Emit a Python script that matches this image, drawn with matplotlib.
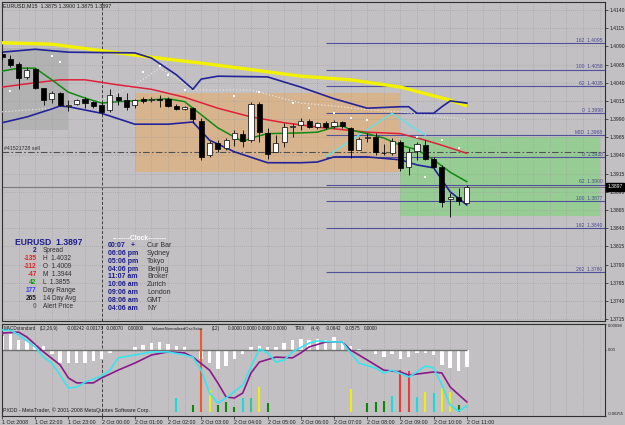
import numpy as np
import matplotlib.pyplot as plt
from matplotlib.patches import Rectangle

plt.rcParams['font.family'] = ['Liberation Sans', 'DejaVu Sans']

W, H = 625, 425
BG = '#c2c0c2'
GRID = '#9c9c9c'

# EURUSD M15 bars, 1 Oct 21:00 -> 2 Oct 11:00
opens = [1.4080, 1.4073, 1.4066, 1.4048, 1.4059, 1.4033, 1.4018, 1.4026, 1.4008, 1.4011,
         1.4018, 1.4014, 1.4009, 1.4002, 1.4020, 1.4016, 1.4009, 1.4017, 1.4016, 1.4018,
         1.4018, 1.4008, 1.4004, 1.4005, 1.3987, 1.3941, 1.3957, 1.3950, 1.3963, 1.3970,
         1.3961, 1.4011, 1.3971, 1.3945, 1.3958, 1.3979, 1.3982, 1.3987, 1.3979, 1.3985,
         1.3980, 1.3986, 1.3978, 1.3948, 1.3964, 1.3965, 1.3943, 1.3943, 1.3958, 1.3924,
         1.3946, 1.3954, 1.3935, 1.3924, 1.3880, 1.3883, 1.3875]
highs = [1.4084, 1.4078, 1.4069, 1.4062, 1.4060, 1.4033, 1.4029, 1.4027, 1.4016, 1.4018,
         1.4020, 1.4015, 1.4014, 1.4032, 1.4026, 1.4026, 1.4018, 1.4020, 1.4020, 1.4023,
         1.4020, 1.4011, 1.4008, 1.4007, 1.3991, 1.3960, 1.3961, 1.3964, 1.3975, 1.3975,
         1.4014, 1.4014, 1.3978, 1.3968, 1.3985, 1.3985, 1.3991, 1.3990, 1.3986, 1.3987,
         1.3989, 1.3987, 1.3979, 1.3965, 1.3971, 1.3971, 1.3956, 1.3964, 1.3961, 1.3950,
         1.3958, 1.3961, 1.3938, 1.3927, 1.3888, 1.3895, 1.3900]
lows = [1.4072, 1.4061, 1.4031, 1.4045, 1.4031, 1.4009, 1.4012, 1.4008, 1.4001, 1.4009,
        1.4005, 1.4005, 1.3997, 1.4000, 1.4009, 1.4002, 1.4005, 1.4012, 1.4014, 1.4007,
        1.4007, 1.4002, 1.4002, 1.3985, 1.3934, 1.3938, 1.3945, 1.3948, 1.3953, 1.3952,
        1.3958, 1.3958, 1.3935, 1.3945, 1.3952, 1.3965, 1.3975, 1.3978, 1.3976, 1.3976,
        1.3978, 1.3978, 1.3937, 1.3947, 1.3958, 1.3941, 1.3941, 1.3941, 1.3918, 1.3913,
        1.3934, 1.3934, 1.3923, 1.3869, 1.3855, 1.3872, 1.3875]
closes = [1.4075, 1.4064, 1.4047, 1.4058, 1.4033, 1.4016, 1.4026, 1.4009, 1.4010, 1.4016,
          1.4012, 1.4008, 1.4000, 1.4023, 1.4016, 1.4007, 1.4016, 1.4015, 1.4018, 1.4016,
          1.4008, 1.4004, 1.4007, 1.3990, 1.3938, 1.3957, 1.3949, 1.3961, 1.3971, 1.3960,
          1.4011, 1.3972, 1.3942, 1.3957, 1.3979, 1.3980, 1.3987, 1.3979, 1.3985, 1.3979,
          1.3986, 1.3980, 1.3948, 1.3963, 1.3965, 1.3945, 1.3944, 1.3960, 1.3923, 1.3945,
          1.3956, 1.3935, 1.3924, 1.3876, 1.3883, 1.3877, 1.3897]

# overlays read at selected bars
slow_idx = [0, 6, 12, 18, 24, 30, 36, 42, 48, 54, 56]
slow_ma = [1.4095, 1.4093, 1.4084, 1.4075, 1.4067, 1.4058, 1.4049, 1.4044, 1.4034, 1.4016, 1.4008]

upper_idx = [0, 4, 8, 16, 18, 21, 23, 24, 26, 32, 36, 40, 44, 48, 49, 50, 52, 53, 54, 56]
upper_bb = [1.4082, 1.4086, 1.4082, 1.4081, 1.4074, 1.4051, 1.4031, 1.4045, 1.4049, 1.4048,
            1.4034, 1.4018, 1.4005, 1.4007, 1.4007, 1.3998, 1.3998, 1.4007, 1.4015, 1.4012]

lower_idx = [0, 3, 6, 7, 8, 12, 16, 20, 23, 25, 28, 32, 36, 38, 40, 44, 48, 50, 52, 54, 56]
lower_bb = [1.3985, 1.3993, 1.4004, 1.4008, 1.4007, 1.3998, 1.3983, 1.3983, 1.3986, 1.3961,
            1.3945, 1.3930, 1.3930, 1.3931, 1.3938, 1.3938, 1.3934, 1.3927, 1.3923, 1.3890, 1.3872]

red_idx = [0, 4, 7, 10, 14, 18, 22, 26, 30, 34, 38, 44, 48, 51, 53, 56]
red_ma = [1.4034, 1.4040, 1.4044, 1.4044, 1.4037, 1.4031, 1.4020, 1.4005, 1.3993, 1.3985,
          1.3979, 1.3972, 1.3970, 1.3961, 1.3954, 1.3943]

green_idx = [0, 2, 4, 6, 8, 10, 12, 14, 16, 20, 22, 24, 26, 29, 30, 32, 36, 38, 40, 41,
             42, 44, 46, 48, 50, 52, 54, 56]
green_ma = [1.4056, 1.4060, 1.4060, 1.4044, 1.4027, 1.4019, 1.4012, 1.4014, 1.4015, 1.4018,
            1.4014, 1.3996, 1.3978, 1.3959, 1.3964, 1.3970, 1.3971, 1.3972, 1.3979, 1.3981,
            1.3975, 1.3970, 1.3964, 1.3954, 1.3948, 1.3934, 1.3917, 1.3904]

env_idx = [0, 6, 12, 16, 19, 21, 23, 26, 30, 36, 40, 44, 48, 52, 56]
env_vals = [1.4000, 1.4005, 1.4016, 1.4037, 1.4060, 1.4047, 1.4030, 1.4030, 1.4030, 1.4012,
            1.4008, 1.4003, 1.4000, 1.3994, 1.3989]

dot_idx = [6, 7, 17, 19, 20, 22, 28, 31, 35, 37, 40, 42, 44, 50, 51, 53, 55, 1]
dot_vals = [1.4077, 1.4069, 1.4055, 1.4063, 1.4051, 1.4030, 1.4022, 1.4027, 1.4012, 1.4005,
            1.3998, 1.3992, 1.3989, 1.3965, 1.3910, 1.3961, 1.3950, 1.4029]

zz_idx = [39, 47, 51]
zz_vals = [1.3938, 1.3998, 1.3968]

fib_levels = [1.4095, 1.4058, 1.4035, 1.3998, 1.3968, 1.3938, 1.3900, 1.3877, 1.3840, 1.3780]
fib_names = ['162', '100', '62', '0', 'MID', '0', '62', '100', '162', '262']

box_start = [-1, 16, 48]
box_end = [8, 48, 72]
box_low = [1.3975, 1.3917, 1.3857]
box_high = [1.4088, 1.4026, 1.3965]
box_colors = ['#b3b2b3', '#d8b48e', '#97cd95']

bid = 1.3897
order_price = 1.3945
price_ticks = [1.3715, 1.3740, 1.3765, 1.3790, 1.3815, 1.3840, 1.3865, 1.3890, 1.3915,
               1.3940, 1.3965, 1.3990, 1.4015, 1.4040, 1.4065, 1.4090, 1.4115, 1.4140]

time_idx = [0, 4, 8, 12, 16, 20, 24, 28, 32, 36, 40, 44, 48, 52, 56]
time_labels = ['1 Oct 2008', '1 Oct 22:00', '1 Oct 23:00', '2 Oct 00:00', '2 Oct 01:00',
               '2 Oct 02:00', '2 Oct 03:00', '2 Oct 04:00', '2 Oct 05:00', '2 Oct 06:00',
               '2 Oct 07:00', '2 Oct 08:00', '2 Oct 09:00', '2 Oct 10:00', '2 Oct 11:00']

# lower panel
macd_hist = [0.00051, 0.00058, 0.00038, 0.00032, 0.00022, 0.00013, -0.00019, -0.00051, -0.00051,
             -0.00051, -0.00051, -0.00045, -0.00038, -0.00013, -0.00006, -0.00001, 0.00009,
             0.00019, 0.00026, 0.00028, 0.00022, 0.00013, 0.00010, -0.00006, -0.00038, -0.00051,
             -0.00074, -0.00064, -0.00038, -0.00019, 0.00010, 0.00013, 0.00010, 0.00010, 0.00026,
             0.00036, 0.00042, 0.00038, 0.00042, 0.00038, 0.00049, 0.00033, 0.00014, 0.00003,
             0.0, -0.00018, -0.00027, -0.00019, -0.00036, -0.00030, -0.00013, -0.00014, -0.00021,
             -0.00058, -0.00072, -0.00082, -0.00068]

cyan_idx = [0, 1, 2, 4, 5, 6, 7, 8, 9, 10, 12, 13, 14, 16, 18, 20, 22, 23, 24, 25, 26, 27, 29,
            30, 31, 32, 33, 34, 35, 37, 38, 40, 41, 42, 43, 45, 46, 47, 49, 50, 51, 52, 53, 54,
            55, 56]
cyan_vals = [0.00075, 0.00075, 0.00056, 0.00010, -0.00029, -0.00052, -0.00098, -0.00148,
             -0.00144, -0.00125, -0.00102, -0.00079, -0.00032, -0.00021, -0.00009, -0.00009,
             -0.00021, -0.00029, -0.00079, -0.00167, -0.00205, -0.00186, -0.00136, -0.00067,
             0.00002, -0.00013, -0.00048, -0.00040, -0.00009, 0.00025, 0.00033, 0.00029, 0.00029,
             -0.00013, -0.00052, -0.00071, -0.00090, -0.00079, -0.00105, -0.00086, -0.00063,
             -0.00071, -0.00136, -0.00213, -0.00236, -0.00217]

purple_idx = [0, 2, 3, 5, 7, 8, 9, 11, 12, 14, 16, 18, 20, 22, 23, 25, 26, 27, 28, 29, 30, 31,
              33, 35, 36, 37, 39, 41, 42, 44, 46, 48, 49, 51, 52, 53, 54, 56]
purple_vals = [0.00063, 0.00067, 0.00048, -0.00009, -0.00059, -0.00109, -0.00128, -0.00128,
               -0.00109, -0.00079, -0.00052, -0.00021, -0.00009, -0.00013, -0.00029, -0.00079,
               -0.00128, -0.00182, -0.00186, -0.00167, -0.00090, -0.00048, -0.00029, -0.00032,
               -0.00013, 0.00010, 0.00029, 0.00029, -0.00002, -0.00040, -0.00079, -0.00086,
               -0.00098, -0.00090, -0.00086, -0.00090, -0.00144, -0.00201]

vol_idx = [21, 23, 24, 25, 26, 27, 28, 29, 30, 31, 32, 42, 44, 45, 46, 47, 48, 49, 50, 51, 52,
           53, 54, 55]
vol_vals = [0.16, 0.08, 0.94, 0.25, 0.08, 0.11, 0.06, 0.16, 0.16, 0.28, 0.10, 0.26, 0.10, 0.11,
            0.13, 0.18, 0.48, 0.47, 0.17, 0.23, 0.22, 0.27, 0.23, 0.08]
vol_kind = ['cyan', 'green', 'orange', 'yellow', 'green', 'green', 'green', 'cyan', 'seagreen',
            'yellow', 'green', 'yellow', 'green', 'green', 'green', 'cyan', 'red', 'red', 'cyan',
            'yellow', 'cyan', 'yellow', 'yellow', 'green']
kind_color = {'cyan': '#18dcdc', 'green': '#0a880a', 'orange': '#f05a2a', 'yellow': '#eeee10',
              'red': '#f03a3a', 'seagreen': '#30c890'}

info_values = ['2', '-135', '-112', '-47', '42', '177', '265', '0']
info_value_colors = ['#1c1c8c', '#e02020', '#e02020', '#e02020', '#10a010', '#3a3aff', '#202020', '#707070']
info_names = ['Spread', 'H  1.4032', 'O  1.4009', 'M  1.3944', 'L  1.3855', 'Day Range',
              '14 Day Avg', 'Alert Price']
clock_times = ['00:07', '06:06 pm', '05:06 pm', '04:06 pm', '11:07 am', '10:06 am', '09:06 am',
               '08:06 am', '04:06 am']
clock_places = ['Cur Bar', 'Sydney', 'Tokyo', 'Beijing', 'Broker', 'Zurich', 'London', 'GMT', 'NY']


def fx(x):
    return x / W


def fy(y):
    return 1 - y / H


XMAX = 603 / 8.3

fig = plt.figure(figsize=(W / 100, H / 100), dpi=100, facecolor=BG)
ax = fig.add_axes([fx(2), fy(321), 603 / W, 319 / H], facecolor=BG)
ax2 = fig.add_axes([fx(2), fy(416), 603 / W, 92 / H], facecolor=BG)

ax.set_xlim(0, XMAX)
ax.set_ylim(1.37124, 1.41510)
ax2.set_xlim(0, XMAX)
ax2.set_ylim(-0.00255, 0.00098)

# ---------------- main panel ----------------
for x0, x1, lo, hi, col in zip(box_start, box_end, box_low, box_high, box_colors):
    ax.add_patch(Rectangle((x0, lo), x1 - x0, hi - lo, facecolor=col, edgecolor='none', zorder=0.5))

grid_x = np.arange(0, XMAX, 2)
ax.vlines(grid_x, 1.37124, 1.41510, colors=GRID, lw=0.5, linestyles=(0, (1, 2)), zorder=1)
ax.hlines(price_ticks, 0, XMAX, colors=GRID, lw=0.5, linestyles=(0, (1, 2)), zorder=1)
ax2.vlines(grid_x, -0.00255, 0.00098, colors=GRID, lw=0.5, linestyles=(0, (1, 2)), zorder=1)

for a in (ax, ax2):
    a.axvline(12, color='#404040', lw=0.7, ls=(0, (3, 2)), zorder=1.2)

ax.axhline(bid, color='#7a7a7a', lw=0.8, zorder=1.5)
ax.axhline(order_price, color='#505050', lw=0.8, ls=(0, (6, 2, 1.5, 2)), zorder=1.6)
ax.text(0.004, order_price + 0.0001, '#41521728 sell', transform=ax.get_yaxis_transform(),
        fontsize=3.8, color='#303030', va='bottom', zorder=7)

ax.hlines(fib_levels, 39, XMAX, colors='#52529a', lw=0.8, zorder=2)
for lvl, name in zip(fib_levels, fib_names):
    ax.text(0.996, lvl + 0.00003, f'{name}  {lvl:.4f}', transform=ax.get_yaxis_transform(),
            ha='right', va='bottom', fontsize=3.6, color='#4a4a90', zorder=7)

ax.plot(zz_idx, zz_vals, color='#55e6f0', lw=0.9, zorder=2.5)
ax.plot(env_idx, env_vals, color='#ececec', lw=0.8, ls=(0, (1, 2)), zorder=2.6)
ax.plot(slow_idx, slow_ma, color='#f2f200', lw=2.4, zorder=3, solid_capstyle='butt')
ax.plot(upper_idx, upper_bb, color='#23239a', lw=1.2, zorder=3.1)
ax.plot(lower_idx, lower_bb, color='#23239a', lw=1.2, zorder=3.1)
ax.plot(red_idx, red_ma, color='#e0203a', lw=1.1, zorder=3.2)
ax.plot(green_idx, green_ma, color='#108a10', lw=1.1, zorder=3.3)

idx = np.arange(len(opens))
o, h, l, c = (np.array(v) for v in (opens, highs, lows, closes))
up = c >= o
ax.vlines(idx, l, h, colors='black', lw=0.6, zorder=4)
body_low = np.minimum(o, c)
body_h = np.maximum(np.abs(c - o), 0.00004)
ax.bar(idx[up], body_h[up], bottom=body_low[up], width=0.62, color='white', edgecolor='black',
       lw=0.5, zorder=5)
ax.bar(idx[~up], body_h[~up], bottom=body_low[~up], width=0.62, color='black', edgecolor='black',
       lw=0.5, zorder=5)

ax.scatter(dot_idx, dot_vals, s=1.5, c='white', marker='s', linewidths=0, zorder=6)

ax.yaxis.tick_right()
ax.set_yticks(price_ticks)
ax.set_yticklabels([f'{p:.4f}' for p in price_ticks])
ax.tick_params(axis='y', labelsize=3.6, length=2, width=0.5, pad=1.5, colors='#202020')
ax.tick_params(axis='x', bottom=False, labelbottom=False)
ax.text(1.004, bid, f'{bid:.4f}', transform=ax.get_yaxis_transform(), ha='left', va='center',
        fontsize=3.6, color='white', clip_on=False, zorder=10,
        bbox=dict(boxstyle='square,pad=0.3', fc='black', ec='black'))

# ---------------- indicator panel ----------------
ax2.bar(idx, macd_hist, width=0.42, color='white', zorder=2)
ax2.hlines(0, 0, len(opens) - 1, colors='#707070', lw=1.0, zorder=2.2)
ax2.vlines(vol_idx, 0.0435, [0.0435 + v * 0.9565 for v in vol_vals],
           colors=[kind_color[k] for k in vol_kind], lw=1.5,
           transform=ax2.get_xaxis_transform(), zorder=2.4)
ax2.plot(purple_idx, purple_vals, color='#8a1a8a', lw=1.2, zorder=3)
ax2.plot(cyan_idx, cyan_vals, color='#38e4f0', lw=1.2, zorder=3.1)

ax2.yaxis.tick_right()
ax2.set_yticks([-0.00255, 0.0, 0.00098])
ax2.set_yticklabels(['-0.00255', '0.00', '0.00098'])
ax2.tick_params(axis='y', labelsize=3.0, length=1, width=0.5, pad=0.8, colors='#202020')
ylabs = ax2.get_yticklabels()
ylabs[0].set_va('bottom')
ylabs[2].set_va('top')
ax2.set_xticks(time_idx)
ax2.set_xticklabels(time_labels, ha='left', fontsize=3.8, color='#202020')
ax2.tick_params(axis='x', length=2, width=0.5, pad=1, colors='#202020')

for a in (ax, ax2):
    for s in a.spines.values():
        s.set_color('#303030')
        s.set_linewidth(0.8)

# ---------------- texts ----------------
fig.text(fx(3), fy(6), 'EURUSD,M15  1.3875 1.3900 1.3875 1.3897', fontsize=3.9,
         color='#202020', va='center')

header = [(4, 'MACDstandard'), (40, '(12,26,9)'), (67, '-0.00242'), (86, '-0.00173'),
          (106, '-0.00070'), (128, '0.00000'), (152, 'VolumeNormalisedOscillator'),
          (212, '(12)'), (228, '0.0000 0.0000 0.0000 0.0000'), (295, 'TRIX'), (311, '(4,4)'),
          (326, '-0.0642'), (345, '-0.0575'), (364, '0.0000')]
for x, t in header:
    size = 2.95 if len(t) > 20 and '0' not in t else 3.35
    fig.text(fx(x), fy(328.5), t, fontsize=size, color='#202020', va='center', zorder=10)
fig.text(fx(3), fy(410.5), 'PXDD - MetaTrader, \u00a9 2001-2008 MetaQuotes Software Corp.',
         fontsize=3.8, color='#202020', va='center', zorder=10)

fig.text(fx(15), fy(242), 'EURUSD  1.3897', fontsize=6.2, fontweight='bold',
         color='#1c1c8c', va='center')
for i, (v, vc, nm) in enumerate(zip(info_values, info_value_colors, info_names)):
    y = 251 + i * 7.9
    fig.text(fx(36.5), fy(y), v, fontsize=4.7, fontweight='bold', color=vc, ha='right', va='center')
    fig.text(fx(43), fy(y), nm, fontsize=4.7, color='#303030', va='center')

fig.text(fx(140), fy(238), '--------Clock--------', fontsize=4.8, color='white',
         ha='center', va='center', fontweight='bold')
for i, (t, p) in enumerate(zip(clock_times, clock_places)):
    y = 245.7 + i * 7.8
    fig.text(fx(108), fy(y), t, fontsize=5.0, fontweight='bold', color='#1c1c8c', va='center')
    fig.text(fx(147), fy(y), p, fontsize=5.0, color='#303030', va='center')
fig.text(fx(133), fy(245.7), '+', fontsize=5.0, fontweight='bold', color='#1c1c8c',
         ha='center', va='center')

fig.savefig('out.png', dpi=100, facecolor=fig.get_facecolor())
